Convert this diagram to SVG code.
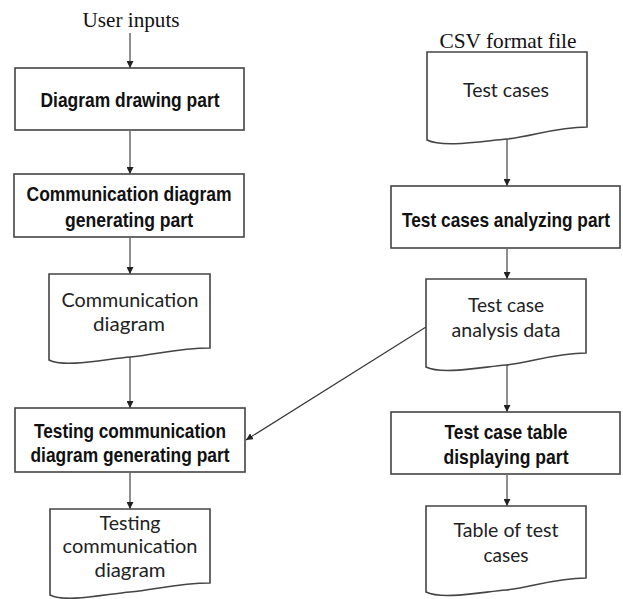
<svg xmlns="http://www.w3.org/2000/svg" width="623" height="599" viewBox="0 0 623 599">
<defs>
<marker id="ah" viewBox="0 0 10 10" refX="10" refY="5" markerWidth="7" markerHeight="7" markerUnits="userSpaceOnUse" orient="auto">
<path d="M0,0 L10,5 L0,10 z" fill="#222"/>
</marker>
<style>
.box{fill:#fff;stroke:#444;stroke-width:1.6}
.doc{fill:#fff;stroke:#444;stroke-width:1.6}
.lb{font-family:"Liberation Sans Narrow","Liberation Sans",Arial,sans-serif;font-weight:bold;font-size:21px;fill:#111;text-anchor:middle}
.ld{font-family:Lato,"Open Sans","Liberation Sans",sans-serif;font-size:20px;fill:#222;text-anchor:middle}
.ls{font-family:"Liberation Serif","Times New Roman",serif;font-size:21px;fill:#111;text-anchor:middle}
.cn{stroke:#333;stroke-width:1.1;fill:none;marker-end:url(#ah)}
</style>
</defs>
<rect width="623" height="599" fill="#fff"/>

<g id="connectors">
<line class="cn" x1="130" y1="33" x2="130" y2="68"/>
<line class="cn" x1="130" y1="131" x2="130" y2="174"/>
<line class="cn" x1="130" y1="238" x2="130" y2="274"/>
<line class="cn" x1="130" y1="357" x2="130" y2="408"/>
<line class="cn" x1="130" y1="473" x2="130" y2="509"/>
<line class="cn" x1="507" y1="139" x2="507" y2="186"/>
<line class="cn" x1="507" y1="249" x2="507" y2="279"/>
<line class="cn" x1="507" y1="365" x2="507" y2="412"/>
<line class="cn" x1="507" y1="475" x2="507" y2="506"/>
<line class="cn" x1="426" y1="327" x2="246" y2="440"/>
</g>

<g id="user-inputs"><text class="ls" x="131" y="27" textLength="97" lengthAdjust="spacingAndGlyphs">User inputs</text></g>
<g id="csv-label"><text class="ls" x="508" y="48" textLength="137" lengthAdjust="spacingAndGlyphs">CSV format file</text></g>

<g id="diagram-drawing-part">
<rect class="box" x="15" y="68" width="229" height="62"/>
<text class="lb" x="130" y="107" textLength="179" lengthAdjust="spacingAndGlyphs">Diagram drawing part</text>
</g>

<g id="comm-diagram-generating-part">
<rect class="box" x="14" y="174" width="230" height="63"/>
<text class="lb" x="129" y="201" textLength="205" lengthAdjust="spacingAndGlyphs">Communication diagram</text>
<text class="lb" x="129" y="227" textLength="128" lengthAdjust="spacingAndGlyphs">generating part</text>
</g>

<g id="communication-diagram">
<path class="doc" d="M49,274 H210 V348 C178,348 154,355 130,357 C106,359 65,368 49,360 Z"/>
<text class="ld" x="130" y="307" textLength="137" lengthAdjust="spacingAndGlyphs">Communication</text>
<text class="ld" x="129" y="331" textLength="72" lengthAdjust="spacingAndGlyphs">diagram</text>
</g>

<g id="testing-comm-diagram-generating-part">
<rect class="box" x="15" y="408" width="230" height="64"/>
<text class="lb" x="130" y="438" textLength="192" lengthAdjust="spacingAndGlyphs">Testing communication</text>
<text class="lb" x="130" y="462" textLength="199" lengthAdjust="spacingAndGlyphs">diagram generating part</text>
</g>

<g id="testing-communication-diagram">
<path class="doc" d="M50,509 H210 V583 C178,583 154,590 130,592 C106,594 66,603 50,595 Z"/>
<text class="ld" x="130" y="530" textLength="61" lengthAdjust="spacingAndGlyphs">Testing</text>
<text class="ld" x="130" y="553" textLength="135" lengthAdjust="spacingAndGlyphs">communication</text>
<text class="ld" x="130" y="577" textLength="71" lengthAdjust="spacingAndGlyphs">diagram</text>
</g>

<g id="test-cases">
<path class="doc" d="M427,52 H587 V127 C555,127 531,137 507,139 C483,141 443,148 427,140 Z"/>
<text class="ld" x="506" y="97" textLength="86" lengthAdjust="spacingAndGlyphs">Test cases</text>
</g>

<g id="test-cases-analyzing-part">
<rect class="box" x="391" y="186" width="229" height="62"/>
<text class="lb" x="506" y="227" textLength="208" lengthAdjust="spacingAndGlyphs">Test cases analyzing part</text>
</g>

<g id="test-case-analysis-data">
<path class="doc" d="M426,279 H586 V353 C554,353 530,363 506,365 C482,367 442,375 426,367 Z"/>
<text class="ld" x="506" y="312" textLength="76" lengthAdjust="spacingAndGlyphs">Test case</text>
<text class="ld" x="506" y="337" textLength="109" lengthAdjust="spacingAndGlyphs">analysis data</text>
</g>

<g id="test-case-table-displaying-part">
<rect class="box" x="391" y="412" width="229" height="62"/>
<text class="lb" x="506" y="439" textLength="123" lengthAdjust="spacingAndGlyphs">Test case table</text>
<text class="lb" x="506" y="464" textLength="125" lengthAdjust="spacingAndGlyphs">displaying part</text>
</g>

<g id="table-of-test-cases">
<path class="doc" d="M426,506 H586 V578 C554,578 530,588 506,590 C482,592 442,600 426,592 Z"/>
<text class="ld" x="506" y="537" textLength="105" lengthAdjust="spacingAndGlyphs">Table of test</text>
<text class="ld" x="506" y="562" textLength="45" lengthAdjust="spacingAndGlyphs">cases</text>
</g>
</svg>
